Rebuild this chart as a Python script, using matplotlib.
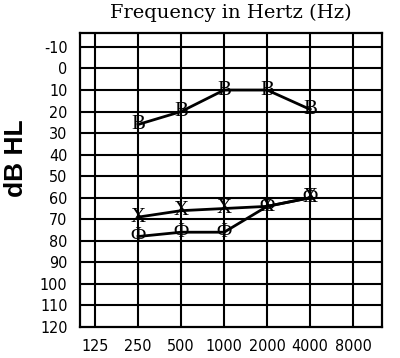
import numpy as np
import matplotlib.pyplot as plt

plt.rcParams['axes.unicode_minus'] = False

# audiogram thresholds (dB HL)
freqs = [125, 250, 500, 1000, 2000, 4000, 8000]
freq_labels = ["125", "250", "500", "1000", "2000", "4000", "8000"]
db_ticks = list(range(-10, 121, 10))

bone_f = [250, 500, 1000, 2000, 4000]
bone_db = [26, 20, 10, 10, 19]

left_f = [250, 500, 1000, 2000, 4000]
left_db = [69, 66, 65, 64, 60]

right_f = [250, 500, 1000, 2000, 4000]
right_db = [78, 76, 76, 64, 60]

fig = plt.figure(figsize=(4, 3.58), dpi=100)
ax = fig.add_axes([0.2, 0.0866, 0.755, 0.8214])

def oct_pos(f):
    return np.log2(np.array(f) / 125.0)

# grid
for x in oct_pos(freqs):
    ax.axvline(x, color="black", lw=1.5, zorder=1)
for y in db_ticks[:-1]:
    ax.axhline(y, color="black", lw=1.5, zorder=1)

ax.set_xlim(-0.35, 6.67)
ax.set_ylim(120, -16.5)
for s in ax.spines.values():
    s.set_linewidth(1.6)

ax.set_xticks(oct_pos(freqs))
ax.set_xticklabels(freq_labels)
ax.set_yticks(db_ticks)
ax.tick_params(length=0, labelsize=11.5, pad=9)
for lab in ax.get_xticklabels() + ax.get_yticklabels():
    lab.set_family("DejaVu Sans")
    lab.set_stretch("condensed")

# series with letter symbols
series = [(bone_f, bone_db, "B"), (left_f, left_db, "X"), (right_f, right_db, "Φ")]
for f, db, sym in series:
    ax.plot(oct_pos(f), db, color="black", lw=2, zorder=3)
    for x, y in zip(oct_pos(f), db):
        ax.text(x, y, sym, ha="center", va="center", fontsize=15,
                family="Liberation Serif", zorder=4)

fig.text(0.578, 0.965, "Frequency in Hertz (Hz)", ha="center", va="center",
         fontsize=14, family="DejaVu Serif")
fig.text(0.04, 0.559, "dB HL", ha="center", va="center", rotation=90,
         fontsize=19, fontweight="bold", family="Liberation Sans")

fig.savefig("out.png", dpi=100)
